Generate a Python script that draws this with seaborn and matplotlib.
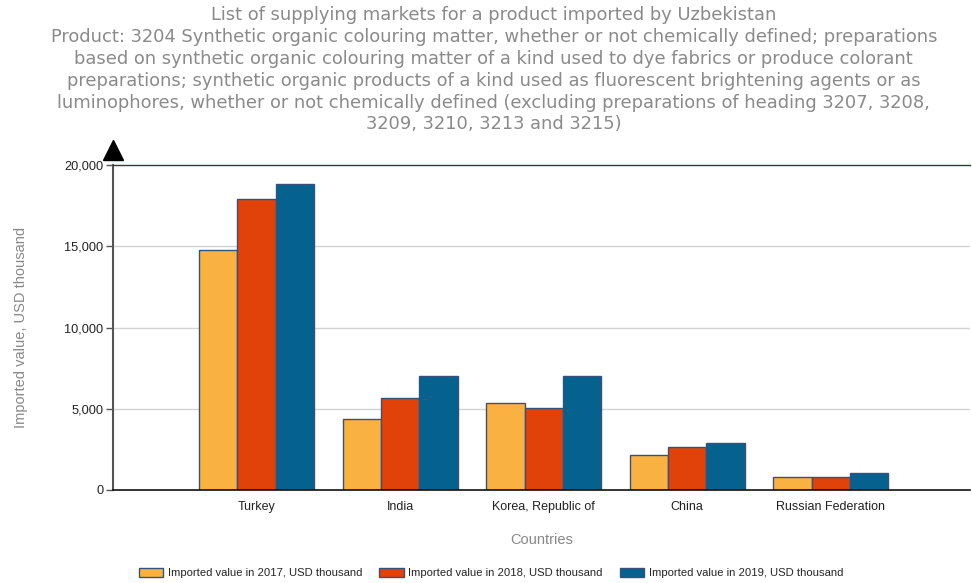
import matplotlib
matplotlib.use("Agg")
import matplotlib.pyplot as plt
import seaborn as sns
import pandas as pd
from matplotlib.patches import Patch

countries = ["Turkey", "India", "Korea, Republic of", "China", "Russian Federation"]
v2017 = [14770, 4370, 5330, 2160, 800]
v2018 = [17930, 5640, 5070, 2670, 800]
v2019 = [18830, 7000, 7000, 2910, 1030]
series = ["Imported value in 2017, USD thousand",
          "Imported value in 2018, USD thousand",
          "Imported value in 2019, USD thousand"]
colors = ["#F9B241", "#E0420A", "#05628F"]
yticks = [0, 5000, 10000, 15000, 20000]
title = ("List of supplying markets for a product imported by Uzbekistan\n"
         "Product: 3204 Synthetic organic colouring matter, whether or not chemically defined; preparations\n"
         "based on synthetic organic colouring matter of a kind used to dye fabrics or produce colorant\n"
         "preparations; synthetic organic products of a kind used as fluorescent brightening agents or as\n"
         "luminophores, whether or not chemically defined (excluding preparations of heading 3207, 3208,\n"
         "3209, 3210, 3213 and 3215)")

rows = []
for s, vals in zip(series, [v2017, v2018, v2019]):
    for c, v in zip(countries, vals):
        rows.append({"Country": c, "Series": s, "Value": v})
df = pd.DataFrame(rows)

sns.set_theme(style="white")
plt.rcParams["font.family"] = ["Liberation Sans", "DejaVu Sans"]

fig = plt.figure(figsize=(9.72, 5.83), dpi=100)
ax = fig.add_axes([113/972, 1-490/583, (970-113)/972, 325/583])

edge = "#34527a"
sns.barplot(data=df, x="Country", y="Value", hue="Series", order=countries,
            hue_order=series, palette=colors, width=0.8, edgecolor=edge,
            linewidth=1.0, ax=ax, legend=False, saturation=1)

ax.set_xlim(-1, 4.97)
ax.set_ylim(0, 20000)
ax.set_yticks(yticks)
ax.set_yticklabels([f"{t:,}" for t in yticks], fontsize=9.2, color="#222222")
ax.tick_params(axis="y", length=5, width=1, color="#555555", direction="out", left=True, pad=2)
ax.tick_params(axis="x", length=0, labelsize=9, labelcolor="#222222", pad=8)
for t in yticks[1:-1]:
    ax.axhline(t, color="#d3d3d3", lw=1, zorder=0)
ax.set_axisbelow(True)
ax.spines["right"].set_visible(False)
ax.spines["top"].set_color("#1f3a68")
ax.spines["top"].set_linewidth(1)
ax.spines["left"].set_color("#555555")
ax.spines["left"].set_linewidth(1.5)
ax.spines["bottom"].set_color("#111111")
ax.spines["bottom"].set_linewidth(1.2)

ax.set_xlabel("Countries", fontsize=10.5, color="#888888", labelpad=14)
ax.set_ylabel("Imported value, USD thousand", fontsize=10.5, color="#888888", labelpad=26)

ax.plot([0], [1.047], marker="^", markersize=14, color="black",
        transform=ax.transAxes, clip_on=False)

fig.text(0.508, 0.99, title, ha="center", va="top", fontsize=12.9, color="#8a8a8a",
         family="DejaVu Sans", linespacing=1.28)

handles = [Patch(facecolor=c, edgecolor=edge, label=s) for c, s in zip(colors, series)]
fig.legend(handles=handles, loc="center", bbox_to_anchor=(0.505, 0.017), ncol=3,
           frameon=False, fontsize=8.1, handlelength=2.2, handleheight=0.9,
           columnspacing=1.5, handletextpad=0.4)

fig.savefig("out.png", dpi=100)
